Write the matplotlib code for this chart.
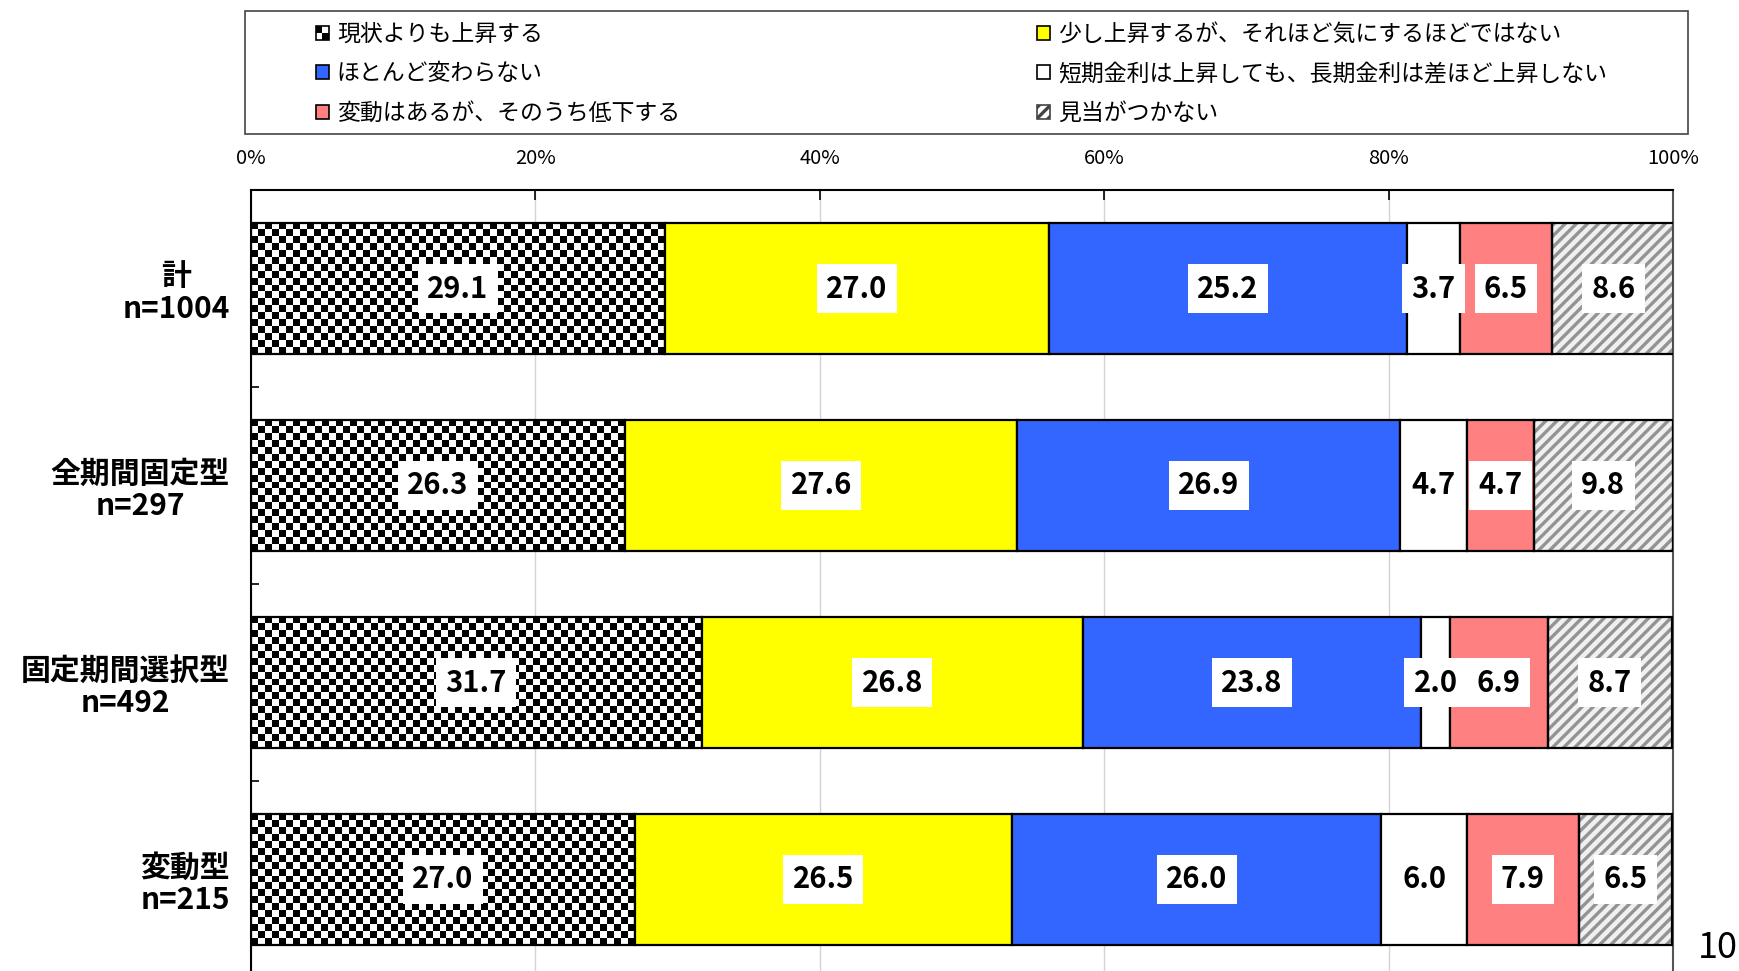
import numpy as np
import matplotlib
matplotlib.use('Agg')
import matplotlib.pyplot as plt
from matplotlib.patches import Patch, Rectangle

# Font giapponese con fallback
plt.rcParams['font.family'] = ['Noto Sans CJK JP', 'DejaVu Sans']
plt.rcParams['hatch.linewidth'] = 2.4

# Dati (%)
categories = ['計\nn=1004', '全期間固定型\nn=297', '固定期間選択型\nn=492', '変動型\nn=215']
series_names = [
    '現状よりも上昇する',
    '少し上昇するが、それほど気にするほどではない',
    'ほとんど変わらない',
    '短期金利は上昇しても、長期金利は差ほど上昇しない',
    '変動はあるが、そのうち低下する',
    '見当がつかない',
]
s_up = [29.1, 26.3, 31.7, 27.0]
s_slight = [27.0, 27.6, 26.8, 26.5]
s_same = [25.2, 26.9, 23.8, 26.0]
s_short = [3.7, 4.7, 2.0, 6.0]
s_down = [6.5, 4.7, 6.9, 7.9]
s_unknown = [8.6, 9.8, 8.7, 6.5]
x_ticks = [0, 20, 40, 60, 80, 100]
x_tick_labels = ['0%', '20%', '40%', '60%', '80%', '100%']
page_number = '10'

series_values = [s_up, s_slight, s_same, s_short, s_down, s_unknown]
series_styles = ['checker', '#FFFF00', '#3366FF', '#FFFFFF', '#FF8080', 'hatch']

W, H = 1740, 971
fig = plt.figure(figsize=(W / 100, H / 100), dpi=100)
fig.patch.set_facecolor('white')

# Posizione degli assi in pixel (sinistra 251, destra 1673, alto 190, basso 978)
ax = fig.add_axes([251 / W, 1 - 978 / H, (1673 - 251) / W, (978 - 190) / H])
ax.set_xlim(0, 100)
ax.set_ylim(3.5, -0.5)

y = np.arange(len(categories))
bar_h = 0.665
cell_px = 7.0


def draw_checker(bar):
    # scacchiera bianco/nero dentro il rettangolo della barra
    x0, y0 = bar.get_x(), bar.get_y()
    w, h = bar.get_width(), bar.get_height()
    p0 = ax.transData.transform((x0, y0))
    p1 = ax.transData.transform((x0 + w, y0 + h))
    nx = max(1, int(round(abs(p1[0] - p0[0]) / cell_px)))
    ny = max(1, int(round(abs(p1[1] - p0[1]) / cell_px)))
    grid = (np.add.outer(np.arange(ny), np.arange(nx)) % 2).astype(float)
    ax.imshow(grid, cmap='gray', vmin=0, vmax=1, interpolation='nearest',
              extent=(x0, x0 + w, y0 + h, y0), aspect='auto', zorder=2)


lefts = np.zeros(len(categories))
for vals, style in zip(series_values, series_styles):
    vals = np.array(vals)
    if style == 'checker':
        bars = ax.barh(y, vals, left=lefts, height=bar_h, facecolor='none',
                       edgecolor='black', linewidth=1.6, zorder=3)
        for b in bars:
            draw_checker(b)
    elif style == 'hatch':
        ax.barh(y, vals, left=lefts, height=bar_h, facecolor='#f0f0f0', hatch='///',
                edgecolor='#939393', linewidth=0, zorder=2)
        ax.barh(y, vals, left=lefts, height=bar_h, facecolor='none',
                edgecolor='black', linewidth=1.6, zorder=3)
    else:
        ax.barh(y, vals, left=lefts, height=bar_h, facecolor=style,
                edgecolor='black', linewidth=1.6, zorder=3)
    # etichette dei valori con riquadro bianco
    for yi, l, v in zip(y, lefts, vals):
        ax.text(l + v / 2, yi, f'{v:.1f}', ha='center', va='center',
                fontsize=21, fontweight='bold', color='black', zorder=5,
                bbox=dict(boxstyle='square,pad=0.32', facecolor='white', edgecolor='none'))
    lefts = lefts + vals

ax.set_xlim(0, 100)
ax.set_ylim(3.5, -0.5)

# Assi e griglia
ax.xaxis.tick_top()
ax.set_xticks(x_ticks)
ax.set_xticklabels(x_tick_labels)
ax.tick_params(axis='x', direction='in', length=7, width=1.2, pad=15, labelsize=14.5,
               colors='black')
ax.xaxis.grid(True, color='#d4d4d4', linewidth=1.0)
ax.set_axisbelow(True)

ax.set_yticks(y)
ax.set_yticklabels(categories, fontsize=21.5, fontweight='bold', multialignment='center',
                   linespacing=1.1)
ax.tick_params(axis='y', which='major', length=0, pad=15)
ax.set_yticks(y[:-1] + 0.5, minor=True)
ax.tick_params(axis='y', which='minor', direction='in', length=6, width=1.2)

for side in ['top', 'left', 'right']:
    ax.spines[side].set_linewidth(1.5)
    ax.spines[side].set_color('black')
ax.spines['right'].set_color('#555555')
ax.spines['bottom'].set_visible(False)


class CheckerHandler:
    # simbolo della legenda a scacchi 2x2
    def legend_artist(self, legend, orig_handle, fontsize, handlebox):
        x0, y0 = -handlebox.xdescent, -handlebox.ydescent
        w, h = handlebox.width, handlebox.height
        tr = handlebox.get_transform()
        base = Rectangle((x0, y0), w, h, facecolor='white', edgecolor='black',
                         linewidth=1.2, transform=tr)
        handlebox.add_artist(base)
        for dx, dy in [(0, 1), (1, 0)]:
            handlebox.add_artist(Rectangle((x0 + dx * w / 2, y0 + dy * h / 2), w / 2, h / 2,
                                           facecolor='black', linewidth=0, transform=tr))
        return base


handles = [
    Patch(facecolor='white', edgecolor='black', label=series_names[0]),
    Patch(facecolor='#FFFF00', edgecolor='black', linewidth=1.2, label=series_names[1]),
    Patch(facecolor='#3366FF', edgecolor='black', linewidth=1.2, label=series_names[2]),
    Patch(facecolor='white', edgecolor='black', linewidth=1.2, label=series_names[3]),
    Patch(facecolor='#FF8080', edgecolor='black', linewidth=1.2, label=series_names[4]),
    Patch(facecolor='white', edgecolor='#444444', hatch='///', linewidth=1.2, label=series_names[5]),
]

# Riquadro della legenda
fig.patches.append(Rectangle((245 / W, 1 - 134 / H), (1688 - 245) / W, (134 - 11) / H,
                             transform=fig.transFigure, facecolor='white',
                             edgecolor='#444444', linewidth=1.2, zorder=0))

legend_kw = dict(loc='upper left', frameon=False, fontsize=16.5, borderpad=0,
                 borderaxespad=0, handlelength=0.56, handleheight=0.56,
                 handletextpad=0.35, labelspacing=0.72)
col1 = [handles[0], handles[2], handles[4]]
col2 = [handles[1], handles[3], handles[5]]
fig.legend(handles=col1, bbox_to_anchor=(316 / W, 1 - 23 / H),
           handler_map={handles[0]: CheckerHandler()}, **legend_kw)
fig.legend(handles=col2, bbox_to_anchor=(1037 / W, 1 - 23 / H), **legend_kw)

# Numero di pagina
fig.text(1738 / W, 1 - 958 / H, page_number, ha='right', va='baseline', fontsize=26)

fig.savefig('out.png', dpi=100)
